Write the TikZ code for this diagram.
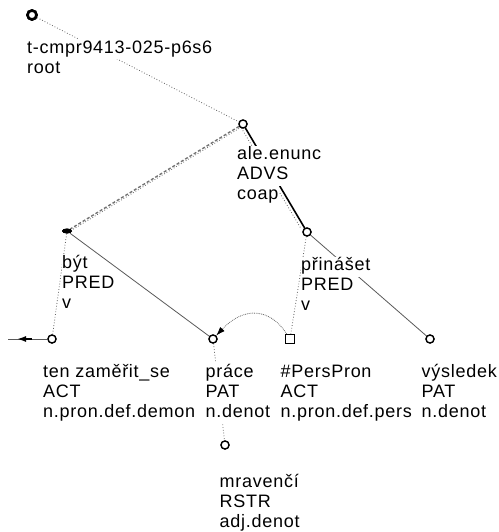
\documentclass[tikz,border=0pt]{standalone}
\usepackage{fontspec}
\setmainfont{Liberation Sans}[LetterSpace=4]
\usetikzlibrary{arrows.meta,shapes.geometric}
% every label line sits on its own white patch that hides the edges below it;
% the patches of one label touch each other (14pt above + 6pt below = 20pt)
\setlength{\fboxsep}{0.5pt}
\newcommand{\wl}[1]{\colorbox{white}{\rule[-5.5pt]{0pt}{19pt}#1}}
\begin{document}
\begin{tikzpicture}[x=1pt,y=-1pt,
  lbl/.style={anchor=north west, align=left, inner sep=0pt,
    font=\fontsize{18}{20}\selectfont},
  tnode/.style={circle, draw=black, line width=1.3pt, minimum size=8pt,
    inner sep=0pt, fill=white},
  gennode/.style={rectangle, draw=black, line width=1.2pt, minimum size=9pt,
    inner sep=0pt, fill=white},
  rootnode/.style={circle, draw=black, line width=2.6pt, minimum size=9pt,
    inner sep=0pt, fill=white},
  coordnode/.style={ellipse, fill=black, minimum width=10pt, minimum height=5pt,
    inner sep=0pt},
  dotedge/.style={draw=black!60, line width=0.8pt, dotted},
  solidedge/.style={draw=black!65, line width=0.8pt},
  memberedge/.style={draw=black!55, line width=1.4pt, densely dashed},
  coapedge/.style={draw=black, line width=1.6pt},
  corefedge/.style={draw=black!60, line width=0.8pt, densely dotted,
    -{Latex[length=9pt,width=6pt,black]}},
  extarrow/.style={draw=black, line width=1.6pt, -{Latex[length=9pt,width=6pt]}},
]
\useasboundingbox (0,0) rectangle (498,532);

% tree nodes
\node[rootnode] (root) at (32,15) {};
\node[tnode] (ale) at (243,124) {};
\node[coordnode] (byt) at (67,231) {};
\node[tnode] (prinaset) at (307,232) {};
\node[tnode] (ten) at (52,339) {};
\node[tnode] (prace) at (213,339) {};
\node[gennode] (pers) at (290,339) {};
\node[tnode] (vysledek) at (430,339) {};
\node[tnode] (mravenci) at (225,445) {};

% helper points of the outgoing arrow at "ten"
\coordinate (tenend) at (8,339);
\coordinate (tenmid) at (32,339);
\coordinate (tentip) at (17,339);

% edges
\draw[dotedge] (root) -- (ale);
\draw[memberedge] (ale) -- (byt);
\draw[dotedge, transform canvas={yshift=-2pt}] (ale) -- (byt);
\draw[coapedge] (ale) -- (prinaset);
\draw[dotedge, transform canvas={xshift=-4pt}] (ale) -- (prinaset);
\draw[dotedge] (byt) -- (ten);
\draw[solidedge] (byt) -- (prace);
\draw[dotedge] (prinaset) -- (pers);
\draw[solidedge] (prinaset) -- (vysledek);
\draw[dotedge] (prace) -- (mravenci);
\draw[corefedge] (pers) .. controls (270,308) and (244,306) .. (prace);
\draw[solidedge] (ten) -- (tenend);
\draw[extarrow] (tenmid) -- (tentip);

% node labels
\node[lbl] (rootlbl) at (26.5,39) {\wl{t-cmpr9413-025-p6s6}\\\wl{root}};
\node[lbl] (alelbl) at (236.5,145.5) {\wl{ale.enunc}\\\wl{ADVS}\\\wl{coap}};
\node[lbl] (bytlbl) at (61.5,254) {\wl{být}\\\wl{PRED}\\\wl{v}};
\node[lbl] (prinasetlbl) at (300.5,256.5) {\wl{přinášet}\\\wl{PRED}\\\wl{v}};
\node[lbl] (tenlbl) at (42.5,363) {\wl{ten zaměřit\_se}\\\wl{ACT}\\\wl{n.pron.def.demon}};
\node[lbl] (pracelbl) at (205,363) {\wl{práce}\\\wl{PAT}\\\wl{n.denot}};
\node[lbl] (perslbl) at (280,363) {\wl{\#PersPron}\\\wl{ACT}\\\wl{n.pron.def.pers}};
\node[lbl] (vysledeklbl) at (421,363) {\wl{výsledek}\\\wl{PAT}\\\wl{n.denot}};
\node[lbl] (mravencilbl) at (219,473) {\wl{mravenčí}\\\wl{RSTR}\\\wl{adj.denot}};

% redraw the tree nodes on top
\node[rootnode] at (root) {};
\node[tnode] at (ale) {};
\node[coordnode] at (byt) {};
\node[tnode] at (prinaset) {};
\node[tnode] at (ten) {};
\node[tnode] at (prace) {};
\node[gennode] at (pers) {};
\node[tnode] at (vysledek) {};
\node[tnode] at (mravenci) {};
\end{tikzpicture}
\end{document}
